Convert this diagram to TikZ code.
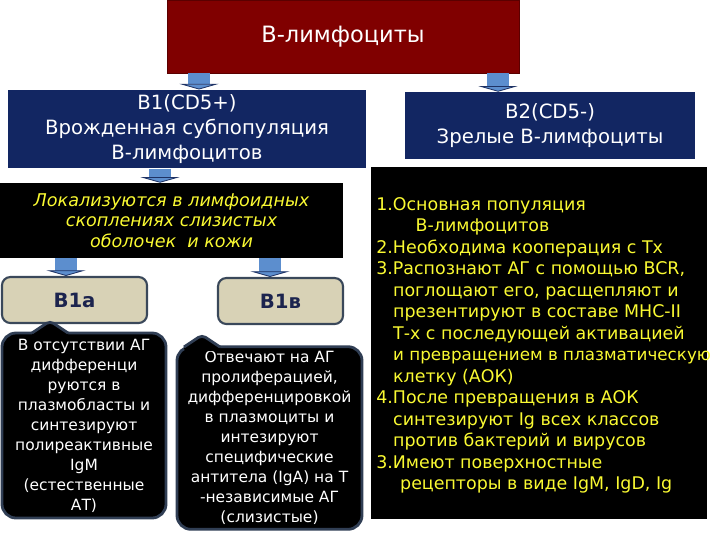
\documentclass[tikz,border=0pt]{standalone}
\usepackage{fontspec}
\setmainfont{DejaVu Sans}
\usepackage{xcolor}
\usepackage{tikz}
\usetikzlibrary{arrows.meta, calc}
\definecolor{topred}{RGB}{128,0,0}
\definecolor{navy}{RGB}{18,38,98}
\definecolor{tan}{RGB}{216,210,182}
\definecolor{tanline}{RGB}{58,72,90}
\definecolor{tantext}{RGB}{28,36,78}
\definecolor{callline}{RGB}{48,62,84}
\definecolor{arrowblue}{RGB}{92,142,206}
\definecolor{arrowdark}{RGB}{30,50,100}
\definecolor{hiyellow}{RGB}{250,250,50}
\tikzstyle{redbox} = [rectangle, fill=topred, draw=topred!70!black, text=white, align=center, font=\fontsize{16}{19}\selectfont]
\tikzstyle{navybox} = [rectangle, fill=navy, text=white, align=center, font=\fontsize{14}{17.8}\selectfont]
\tikzstyle{blackbox} = [rectangle, fill=black, text=hiyellow, align=center]
\tikzstyle{tanbox} = [rectangle, fill=tan, draw=tanline, line width=1.5pt, rounded corners=6pt, text=tantext, font=\bfseries\fontsize{14}{16}\selectfont]
\tikzstyle{callout} = [rectangle, fill=black, draw=callline, line width=2pt, rounded corners=10pt, text=white, align=center, font=\fontsize{11}{14.2}\selectfont]
\tikzstyle{blockarrow} = [line width=15pt, arrowblue, -{Triangle[width=28pt, length=4pt, line width=0.6pt, fill=arrowblue, color=arrowdark]}]

\begin{document}
\begin{tikzpicture}[x=0.025cm, y=-0.025cm]
                \useasboundingbox (0,0) rectangle (720,540);
                % boxes
                \node (top) at (343,36.5) [redbox, minimum width=8.8cm, minimum height=1.825cm] {B-лимфоциты};
                \node (b1) at (187,129) [navybox, minimum width=8.95cm, minimum height=1.9cm] {B1(CD5+)\\ Врожденная субпопуляция\\ B-лимфоцитов};
                \node (b2) at (550,125.5) [navybox, minimum width=7.25cm, minimum height=1.675cm] {B2(CD5-)\\ Зрелые B-лимфоциты};
                \node (loc) at (171.5,220.5) [blackbox, minimum width=8.575cm, minimum height=1.875cm, font=\itshape\fontsize{12.5}{14.6}\selectfont] {Локализуются в лимфоидных\\ скоплениях слизистых\\ оболочек~ и кожи};
                \node (rbox) at (539,343) [blackbox, minimum width=8.4cm, minimum height=8.8cm] {};
                \node (rtext) at (376,197) [anchor=north west, align=left, inner sep=0pt, text=hiyellow, font=\fontsize{12.4}{15.3}\selectfont] {1.Основная популяция\\
                    \hspace*{28pt}В-лимфоцитов\\
                    2.Необходима кооперация с Тх\\
                    3.Распознают АГ с помощью BCR,\\
                    \hspace*{12pt}поглощают его, расщепляют и\\
                    \hspace*{12pt}презентируют в составе MHC-II\\
                    \hspace*{12pt}Т-х с последующей активацией\\
                    \hspace*{12pt}{\fontsize{11.9}{15.3}\selectfont и превращением в плазматическую}\\
                    \hspace*{12pt}клетку (АОК)\\
                    4.После превращения в АОК\\
                    \hspace*{12pt}синтезируют Ig всех классов\\
                    \hspace*{12pt}против бактерий и вирусов\\
                    3.Имеют поверхностные\\
                    \hspace*{17pt}рецепторы в виде IgM, IgD, Ig};
                \node (b1a) at (74.5,300) [tanbox, minimum width=3.625cm, minimum height=1.15cm] {B1a};
                \node (b1v) at (280.5,301) [tanbox, minimum width=3.125cm, minimum height=1.15cm] {B1в};
                % callouts
                \node (c1) at (84,425.5) [callout, minimum width=4.1cm, minimum height=4.625cm] {В отсутствии АГ\\ дифференци\\ руются в\\ плазмобласты и\\ синтезируют\\ полиреактивные\\ IgM\\ (естественные\\ АТ)};
                \node (c2) at (269.5,438) [callout, minimum width=4.625cm, minimum height=4.55cm] {Отвечают на АГ\\ пролиферацией,\\ дифференцировкой\\ в плазмоциты и\\ интезируют\\ специфические\\ антитела (IgA) на Т\\ -независимые АГ\\ (слизистые)};
                \coordinate (tip1) at (50,321);
                \coordinate (tip2) at (202,335);
                \foreach \t in {tip1, tip2} {
                    \fill[black, rounded corners=3pt] ($(\t)+(-18,12)$) -- (\t) -- ($(\t)+(18,12)$) -- ($(\t)+(18,16)$) -- ($(\t)+(-18,16)$) -- cycle;
                    \draw[callline, line width=2pt, rounded corners=3pt] ($(\t)+(-18,12)$) -- (\t) -- ($(\t)+(18,12)$);
                }
                % arrows
                \coordinate (x1) at (199,0);
                \coordinate (x2) at (498,0);
                \coordinate (x3) at (160,0);
                \coordinate (x4) at (66,0);
                \coordinate (x5) at (270,0);
                \draw[blockarrow] (top.south -| x1) -- (b1.north -| x1);
                \draw[blockarrow] (top.south -| x2) -- (b2.north -| x2);
                \draw[blockarrow] (b1.south -| x3) -- (loc.north -| x3);
                \draw[blockarrow] (loc.south -| x4) -- (b1a.north -| x4);
                \draw[blockarrow] (loc.south -| x5) -- (b1v.north -| x5);
            \end{tikzpicture}
\end{document}
